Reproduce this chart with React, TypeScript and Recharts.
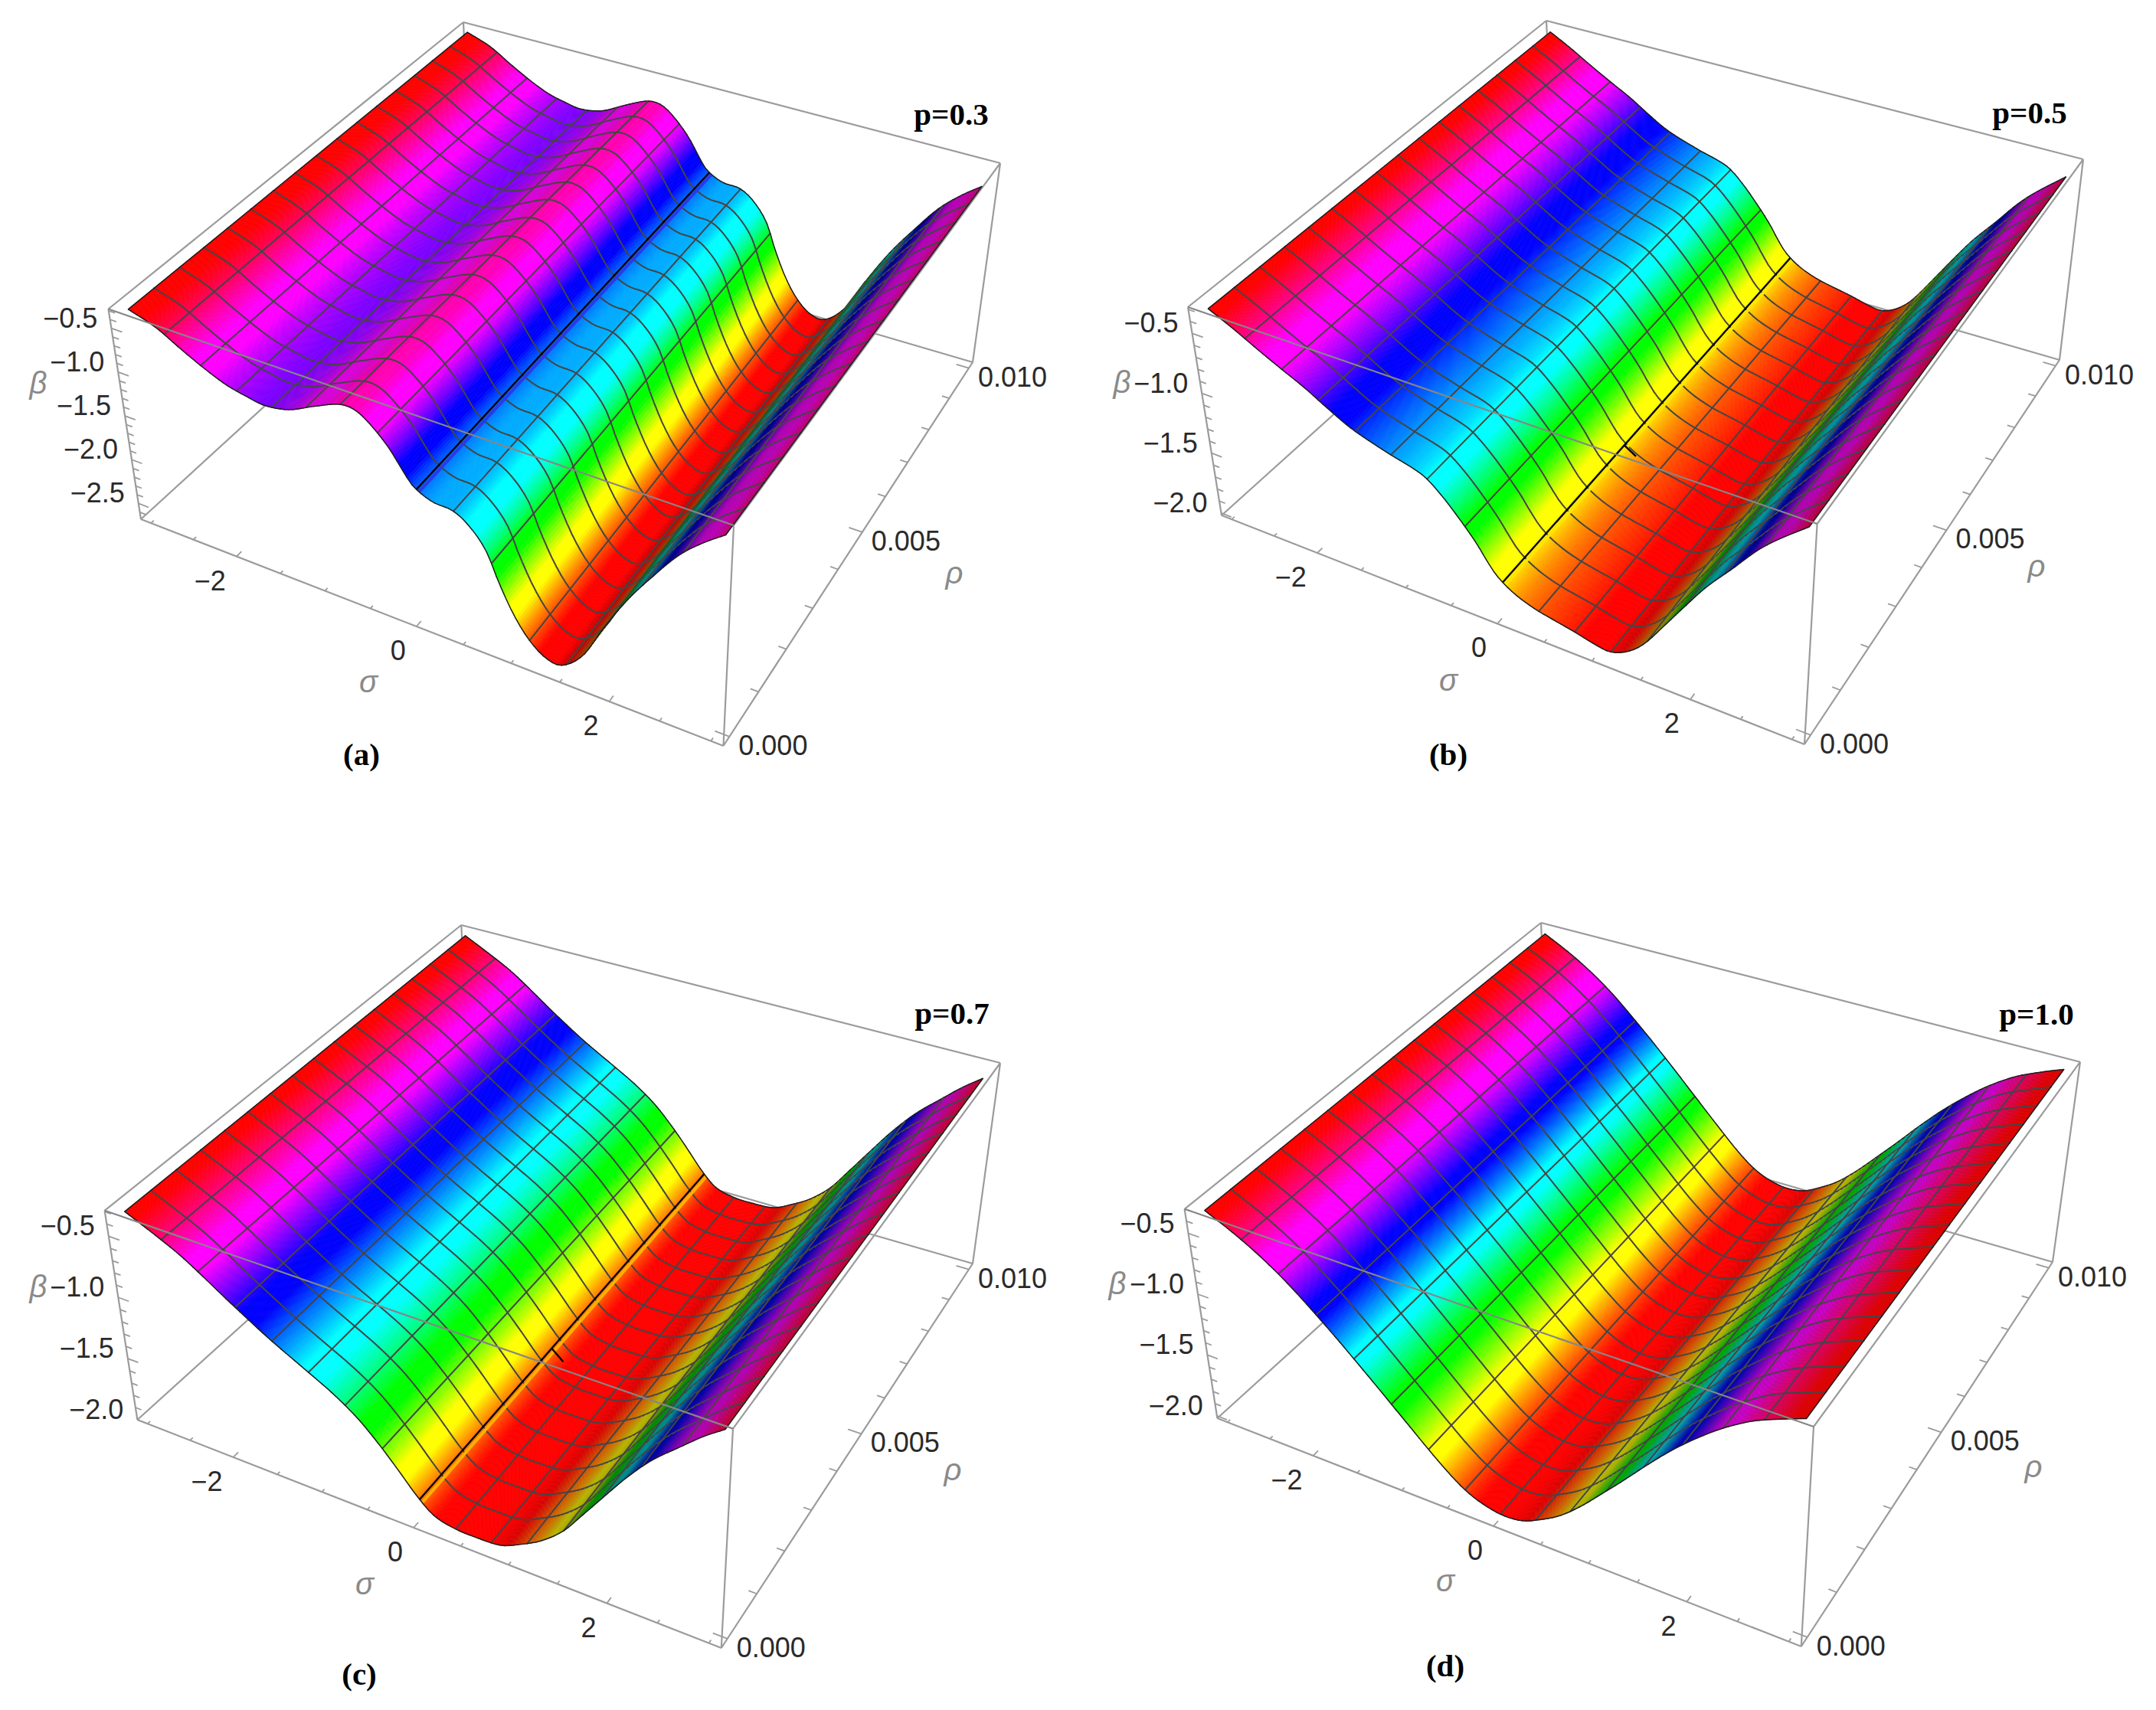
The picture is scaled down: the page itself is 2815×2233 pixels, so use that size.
import React from 'react';
import { ScatterChart, Scatter, XAxis, YAxis } from 'recharts';

// ---- values: beta along sigma on the rho = 0 edge ----
const sigmaA = [-3, -2.71, -2.45, -2.2, -1.98, -1.78, -1.58, -1.31, -1.03, -0.75, -0.58, -0.41, -0.25, -0.135, -0.035, 0.155, 0.37, 0.535, 0.7, 0.82, 0.96, 1.11, 1.28, 1.45, 1.67, 1.87, 2.11, 2.35, 2.58, 2.8, 3];
const betaA = [-0.32, -0.424, -0.58, -0.717, -0.815, -0.864, -0.896, -0.845, -0.702, -0.575, -0.586, -0.717, -0.899, -1.079, -1.214, -1.314, -1.334, -1.442, -1.653, -1.95, -2.238, -2.454, -2.591, -2.61, -2.409, -2.032, -1.607, -1.248, -0.928, -0.7, -0.53];

const sigmaB = [-3, -2.74, -2.48, -2.25, -2.01, -1.8, -1.54, -1.15, -0.89, -0.76, -0.595, -0.41, -0.26, -0.16, -0.056, 0.116, 0.335, 0.553, 0.748, 0.944, 1.114, 1.29, 1.46, 1.67, 1.88, 2.08, 2.31, 2.54, 2.725, 3];
const betaB = [-0.32, -0.422, -0.534, -0.627, -0.72, -0.816, -0.924, -1.023, -1.075, -1.117, -1.223, -1.373, -1.509, -1.619, -1.716, -1.805, -1.867, -1.902, -1.93, -1.965, -1.98, -1.926, -1.815, -1.601, -1.375, -1.164, -0.956, -0.738, -0.595, -0.41];

const sigmaC = [-3, -2.7, -2.44, -2.23, -1.976, -1.77, -1.509, -1.147, -0.866, -0.615, -0.4, -0.235, -0.026, 0.146, 0.367, 0.586, 0.85, 1.073, 1.286, 1.499, 1.667, 1.877, 2.11, 2.343, 2.611, 2.807, 3];
const betaC = [-0.324, -0.43, -0.529, -0.63, -0.76, -0.86, -0.98, -1.125, -1.24, -1.37, -1.52, -1.65, -1.82, -1.925, -1.966, -1.971, -1.957, -1.882, -1.788, -1.649, -1.488, -1.279, -1.046, -0.841, -0.651, -0.515, -0.4];

const sigmaD = [-3, -2.7, -2.45, -2.238, -2.071, -1.864, -1.701, -1.493, -1.33, -1.119, -0.951, -0.738, -0.567, -0.39, -0.214, 0.009, 0.229, 0.412, 0.637, 0.859, 1.078, 1.29, 1.54, 1.783, 2.02, 2.254, 2.521, 2.786, 3];
const betaD = [-0.338, -0.45, -0.56, -0.67, -0.77, -0.905, -1.015, -1.16, -1.275, -1.425, -1.543, -1.69, -1.8, -1.895, -1.955, -1.99, -1.975, -1.915, -1.815, -1.675, -1.51, -1.345, -1.14, -0.95, -0.785, -0.64, -0.505, -0.41, -0.342];

// ---- axis ticks ----
const sigmaTicks = [-3, -2.5, -2, -1.5, -1, -0.5, 0, 0.5, 1, 1.5, 2, 2.5, 3];
const sigmaLabels = [-2, 0, 2];
const rhoTicks = [0, 0.001, 0.002, 0.003, 0.004, 0.005, 0.006, 0.007, 0.008, 0.009, 0.01];
const rhoLabels = [0, 0.005, 0.01];
const betaTicksA = [-2.6, -2.5, -2.4, -2.3, -2.2, -2.1, -2, -1.9, -1.8, -1.7, -1.6, -1.5, -1.4, -1.3, -1.2, -1.1, -1, -0.9, -0.8, -0.7, -0.6, -0.5, -0.4, -0.3];
const betaTicksRest = [-2, -1.9, -1.8, -1.7, -1.6, -1.5, -1.4, -1.3, -1.2, -1.1, -1, -0.9, -0.8, -0.7, -0.6, -0.5, -0.4, -0.3];
const betaLabelsA = [-0.5, -1, -1.5, -2, -2.5];
const betaLabelsRest = [-0.5, -1, -1.5, -2];

// ---- the box of each panel: camera of the 3D view, in page pixels ----
const SIGMA_MIN = -3.12, SIGMA_SPAN = 6.24, RHO_MIN = -0.0002, RHO_SPAN = 0.0104;
const SIGMA_WARP = 1.114, RHO_WARP = 0.795;

const panels: any[] = [
  {
    id: 'a', left: 0, top: 0, width: 1410, height: 1116, sigma: sigmaA, beta: betaA, betaBottom: -2.68, betaTop: -0.28,
    betaTicks: betaTicksA, betaLabels: betaLabelsA, kink: '#2a3ae6', hookRho: 0,
    floor: [[184, 678], [944.5, 974], [617, 282], [1270, 473]],
    roof: [[141.5, 403.5], [958, 686], [605, 29], [1306, 213]],
    notes: [['β', 50, 502], ['σ', 481, 892], ['ρ', 1246, 750]], title: ['p=0.3', 1242, 149], letter: ['(a)', 472, 985],
  },
  {
    id: 'b', left: 1410, top: 0, width: 1405, height: 1116, sigma: sigmaB, beta: betaB, betaBottom: -2.02, betaTop: -0.28,
    betaTicks: betaTicksRest, betaLabels: betaLabelsRest, kink: '#ffe600', hookRho: 0.0037,
    floor: [[1595, 673], [2356, 972], [2031, 280], [2689, 470]],
    roof: [[1551, 401], [2372.6, 684], [2019, 27], [2720, 208]],
    notes: [['β', 1465, 501], ['σ', 1891, 890], ['ρ', 2659, 741]], title: ['p=0.5', 2650, 147], letter: ['(b)', 1891, 985],
  },
  {
    id: 'c', left: 0, top: 1116, width: 1410, height: 1117, sigma: sigmaC, beta: betaC, betaBottom: -2, betaTop: -0.29,
    betaTicks: betaTicksRest, betaLabels: betaLabelsRest, kink: '#ffb000', hookRho: 0.0041,
    floor: [[179.4, 1854], [941.8, 2152], [614, 1461], [1270, 1650]],
    roof: [[136.6, 1580.8], [957, 1865.6], [602.3, 1208], [1306, 1388]],
    notes: [['β', 50, 1682], ['σ', 476, 2070], ['ρ', 1244, 1921]], title: ['p=0.7', 1243, 1323], letter: ['(c)', 469, 2186],
  },
  {
    id: 'd', left: 1410, top: 1116, width: 1405, height: 1117, sigma: sigmaD, beta: betaD, betaBottom: -2.02, betaTop: -0.3,
    betaTicks: betaTicksRest, betaLabels: betaLabelsRest, kink: '', hookRho: 0,
    floor: [[1589.4, 1852], [2351.8, 2150], [2024, 1458], [2680, 1648]],
    roof: [[1546.6, 1578.8], [2368, 1863], [2012, 1205], [2716, 1386.7]],
    notes: [['β', 1459, 1678], ['σ', 1887, 2066], ['ρ', 2655, 1917]], title: ['p=1.0', 2659, 1324], letter: ['(d)', 1887, 2175],
  },
];

const ROW_STEP = 0.375 / 8; // drawing resolution along sigma (curve smoothing only)
const ROWS = 129;
const COLS = 17;
const EDGE = '#9b9b9b';
const MESH = '#454545';
const MESH_WIDTH = 2;
const BOUNDARY = '#1c1c1c';

const mix = (a: number, b: number, f: number) => a + (b - a) * f;
const warp = (a: number, k: number) => a / (a + k * (1 - a));

function project(p: any, s: number, r: number, b: number) {
  const U = warp((s - SIGMA_MIN) / SIGMA_SPAN, SIGMA_WARP);
  const V = warp((r - RHO_MIN) / RHO_SPAN, RHO_WARP);
  const W = (b - p.betaBottom) / (p.betaTop - p.betaBottom);
  const sheet = (c: number[][], i: number) => mix(mix(c[0][i], c[1][i], U), mix(c[2][i], c[3][i], U), V);
  return { x: mix(sheet(p.floor, 0), sheet(p.roof, 0), W), y: mix(sheet(p.floor, 1), sheet(p.roof, 1), W) };
}

// smooth curve through the read values (cubic, like a monotone/natural line type)
function curve(xs: number[], ys: number[], x: number) {
  let i = 0;
  while (i < xs.length - 2 && x > xs[i + 1]) i++;
  const h = xs[i + 1] - xs[i];
  const t = Math.min(1, Math.max(0, (x - xs[i]) / h));
  const slope = (k: number) => {
    const l = Math.max(0, k - 1), u = Math.min(xs.length - 1, k + 1);
    return (ys[u] - ys[l]) / (xs[u] - xs[l]);
  };
  const t2 = t * t, t3 = t2 * t;
  return (2 * t3 - 3 * t2 + 1) * ys[i] + (t3 - 2 * t2 + t) * h * slope(i) + (-2 * t3 + 3 * t2) * ys[i + 1] + (t3 - t2) * h * slope(i + 1);
}

// hue colour with the plateaus around the pure hues that the lit surface shows
function hsv(h: number, v: number) {
  const hh = (((h % 360) + 360) % 360) / 60;
  const raw = 1 - Math.abs((hh % 2) - 1);
  const x = Math.min(1, Math.max(0, (raw - 0.12) / 0.76));
  const tbl = [[1, x, 0], [x, 1, 0], [0, 1, x], [0, x, 1], [x, 0, 1], [1, 0, x]][Math.floor(hh) % 6];
  return `rgb(${tbl.map((n) => Math.round(n * v * 255)).join(',')})`;
}

function rowsOf(p: any) {
  const row: number[] = [];
  for (let i = 0; i < ROWS; i++) row.push(curve(p.sigma, p.beta, -3 + i * ROW_STEP));
  return row;
}

function surfaceData(p: any) {
  const row = rowsOf(p);
  const pts: any[] = [];
  for (let i = 0; i < ROWS; i++) {
    for (let j = 0; j < COLS; j++) {
      pts.push(project(p, -3 + i * ROW_STEP, (j * 0.01) / (COLS - 1), row[i]));
    }
  }
  return pts;
}

function makeSurface(p: any) {
  const row = rowsOf(p);
  const lo = Math.min(...p.beta), hi = Math.max(...p.beta);
  const range = p.betaTop - p.betaBottom;
  const slope = (i: number) => {
    const l = Math.max(0, i - 1), u = Math.min(ROWS - 1, i + 1);
    return (row[u] - row[l]) / ((u - l) * ROW_STEP) / range;
  };
  const shade = (s: number) => Math.max(0.42, 1 - 0.78 * Math.max(0, s));
  return (props: any) => {
    const pts = props.points;
    const at = (i: number, j: number) => pts[i * COLS + j];
    const lerp = (a: any, b: any, f: number) => `${mix(a.x, b.x, f).toFixed(2)},${mix(a.y, b.y, f).toFixed(2)}`;
    const out: any[] = [];
    for (let i = 0; i < ROWS - 1; i++) {
      const SUB = 3;
      for (let k = 0; k < SUB; k++) {
        const f0 = k / SUB, f1 = (k + 1) / SUB, fc = (k + 0.5) / SUB;
        const b = mix(row[i], row[i + 1], fc);
        const color = hsv(((b - lo) / (hi - lo)) * 360, shade(mix(slope(i), slope(i + 1), fc)));
        const poly = [lerp(at(i, 0), at(i + 1, 0), f0), lerp(at(i, COLS - 1), at(i + 1, COLS - 1), f0), lerp(at(i, COLS - 1), at(i + 1, COLS - 1), f1), lerp(at(i, 0), at(i + 1, 0), f1)].join(' ');
        out.push(<polygon key={`s${i}-${k}`} points={poly} fill={color} stroke={color} strokeWidth={0.8} />);
      }
      let d = '';
      for (let j = 1; j < COLS - 1; j++) d += `M${lerp(at(i, j), at(i, j), 0)}L${lerp(at(i + 1, j), at(i + 1, j), 0)}`;
      out.push(<path key={`m${i}`} d={d} stroke={MESH} strokeWidth={MESH_WIDTH} strokeLinecap="round" fill="none" />);
      if (i === 64 && p.kink) {
        const a0 = lerp(at(64, 0), at(65, 0), 0.55).split(','), a1 = lerp(at(64, COLS - 1), at(65, COLS - 1), 0.55).split(',');
        out.push(<line key="tint" x1={a0[0]} y1={a0[1]} x2={a1[0]} y2={a1[1]} stroke={p.kink} strokeWidth={4} />);
      }
      if (i > 0 && i % 8 === 0) {
        const isKink = p.kink && i === 64;
        out.push(<line key={`l${i}`} x1={at(i, 0).x} y1={at(i, 0).y} x2={at(i, COLS - 1).x} y2={at(i, COLS - 1).y} stroke={isKink ? '#000' : MESH} strokeWidth={isKink ? 2.4 : MESH_WIDTH} />);
      }
      let rim = '';
      for (const j of [0, COLS - 1]) rim += `M${lerp(at(i, j), at(i, j), 0)}L${lerp(at(i + 1, j), at(i + 1, j), 0)}`;
      out.push(<path key={`r${i}`} d={rim} stroke={BOUNDARY} strokeWidth={1.5} strokeLinecap="round" fill="none" />);
    }
    const last = ROWS - 1;
    out.push(<line key="e0" x1={at(0, 0).x} y1={at(0, 0).y} x2={at(0, COLS - 1).x} y2={at(0, COLS - 1).y} stroke={BOUNDARY} strokeWidth={1.5} />);
    out.push(<line key="e1" x1={at(last, 0).x} y1={at(last, 0).y} x2={at(last, COLS - 1).x} y2={at(last, COLS - 1).y} stroke={BOUNDARY} strokeWidth={1.5} />);
    return <g>{out}</g>;
  };
}

const noMark = () => <g />;

// pairs of points drawn as separate strokes
const strokes = (color: string, width: number) => (props: any) => {
  let d = '';
  const pts = props.points;
  for (let i = 0; i + 1 < pts.length; i += 2) d += `M${pts[i].x},${pts[i].y}L${pts[i + 1].x},${pts[i + 1].y}`;
  return <path d={d} stroke={color} strokeWidth={width} fill="none" />;
};

function boxBack(p: any) {
  const [fl, fr, bl, br] = p.floor, [tfl, tfr, tbl, tbr] = p.roof;
  const pairs = [[fl, bl], [bl, br], [tbl, bl], [tfl, tbl], [tbl, tbr], [tbr, br], [tfr, tbr], [tfl, fl], [fl, fr], [fr, br], [fr, tfr]];
  return pairs.flat().map((c: number[]) => ({ x: c[0], y: c[1] }));
}

function tickData(p: any) {
  const pts: any[] = [];
  const B = p.betaBottom;
  sigmaTicks.forEach((s) => {
    const len = sigmaLabels.includes(s) ? 0.00013 : 0.00007;
    pts.push(project(p, s, RHO_MIN, B), project(p, s, RHO_MIN + len, B));
  });
  rhoTicks.forEach((r) => {
    const len = rhoLabels.includes(r) ? 0.14 : 0.08;
    pts.push(project(p, -SIGMA_MIN, r, B), project(p, -SIGMA_MIN - len, r, B));
  });
  p.betaTicks.forEach((b: number) => {
    const len = p.betaLabels.includes(b) ? 0.12 : 0.07;
    pts.push(project(p, SIGMA_MIN, RHO_MIN, b), project(p, SIGMA_MIN + len, RHO_MIN, b));
  });
  return pts;
}

function hookData(p: any) {
  return [0, 0.13].map((s) => project(p, s, p.hookRho, curve(p.sigma, p.beta, s)));
}

const fmtMinus = (v: number, digits: number) => (v < 0 ? '\u2212' : '') + Math.abs(v).toFixed(digits);

function tickLabelData(p: any) {
  const out: any[] = [];
  sigmaLabels.forEach((s) => {
    const q = project(p, s, RHO_MIN, p.betaBottom);
    out.push({ ...q, text: fmtMinus(s, 0), kind: 'sigma' });
  });
  rhoLabels.forEach((r) => {
    const q = project(p, -SIGMA_MIN, r, p.betaBottom);
    out.push({ ...q, text: r.toFixed(3), kind: 'rho' });
  });
  p.betaLabels.forEach((b: number) => {
    const q = project(p, SIGMA_MIN, RHO_MIN, b);
    out.push({ ...q, text: fmtMinus(b, 1), kind: 'beta' });
  });
  return out;
}

const TICK_FONT = "'Liberation Sans', Arial, sans-serif";
const TickText = (props: any) => {
  const { cx, cy, payload } = props;
  const k = payload.kind;
  const x = k === 'sigma' ? cx - 14 : k === 'rho' ? cx + 12 : cx - 18;
  const y = k === 'sigma' ? cy + 31 : k === 'rho' ? cy + 11 : cy - 14;
  return (
    <text x={x} y={y} dy="0.36em" fontFamily={TICK_FONT} fontSize={36} fill="#2a2a2a" textAnchor={k === 'rho' ? 'start' : 'end'}>
      {payload.text}
    </text>
  );
};
const NoteText = (props: any) => (
  <text x={props.cx} y={props.cy} dy="0.3em" fontFamily={TICK_FONT} fontStyle="italic" fontSize={40} fill="#8a8a8a" textAnchor="middle">
    {props.payload.text}
  </text>
);
const TitleText = (props: any) => (
  <text x={props.cx} y={props.cy} dy="0.33em" fontFamily="'Liberation Serif', 'Times New Roman', serif" fontWeight="bold" fontSize={41} fill="#000" textAnchor="middle">
    {props.payload.text}
  </text>
);

function Panel({ p }: { p: any }) {
  const front = [project(p, SIGMA_MIN, RHO_MIN, p.betaTop), project(p, -SIGMA_MIN, RHO_MIN, p.betaTop)];
  const notes = p.notes.map((n: any[]) => ({ text: n[0], x: n[1], y: n[2] }));
  const titles = [p.title, p.letter].map((n: any[]) => ({ text: n[0], x: n[1], y: n[2] }));
  return (
    <div style={{ position: 'absolute', left: p.left, top: p.top, width: p.width, height: p.height }}>
      <ScatterChart width={p.width} height={p.height} margin={{ top: 0, right: 0, bottom: 0, left: 0 }}>
        <XAxis type="number" dataKey="x" domain={[p.left, p.left + p.width]} hide />
        <YAxis type="number" dataKey="y" domain={[p.top, p.top + p.height]} reversed hide />
        <Scatter data={boxBack(p)} line={strokes(EDGE, 2.2)} shape={noMark} isAnimationActive={false} />
        <Scatter data={tickData(p)} line={strokes(EDGE, 1.8)} shape={noMark} isAnimationActive={false} />
        <Scatter data={surfaceData(p)} line={makeSurface(p)} shape={noMark} isAnimationActive={false} />
        {p.hookRho ? <Scatter data={hookData(p)} line={strokes('#000', 2.4)} shape={noMark} isAnimationActive={false} /> : null}
        <Scatter data={front} line={strokes('#868686', 2.2)} shape={noMark} isAnimationActive={false} />
        <Scatter data={tickLabelData(p)} shape={TickText} isAnimationActive={false} />
        <Scatter data={notes} shape={NoteText} isAnimationActive={false} />
        <Scatter data={titles} shape={TitleText} isAnimationActive={false} />
      </ScatterChart>
    </div>
  );
}

export default function App() {
  return (
    <div style={{ position: 'absolute', left: 0, top: 0, width: 2815, height: 2233, background: '#fff', overflow: 'hidden' }}>
      {panels.map((p) => (
        <Panel key={p.id} p={p} />
      ))}
    </div>
  );
}
